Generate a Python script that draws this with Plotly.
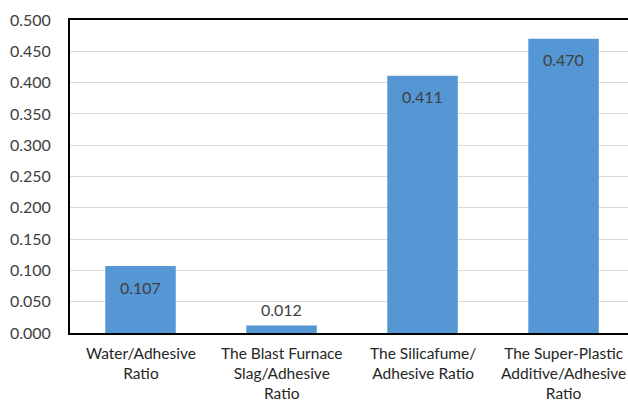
import plotly.graph_objects as go

categories = [
    "Water/Adhesive<br>Ratio",
    "The Blast Furnace<br>Slag/Adhesive<br>Ratio",
    "The Silicafume/<br>Adhesive Ratio",
    "The Super-Plastic<br>Additive/Adhesive<br>Ratio",
]
values = [0.107, 0.012, 0.411, 0.470]
labels = ["0.107", "0.012", "0.411", "0.470"]
tick_vals = [0, 0.05, 0.1, 0.15, 0.2, 0.25, 0.3, 0.35, 0.4, 0.45, 0.5]

FONT = "Lato"
fig = go.Figure()
fig.add_trace(go.Bar(
    x=list(range(len(categories))),
    y=values,
    width=0.5,
    marker=dict(color="#5596D4", line=dict(width=0)),
    hoverinfo="skip",
))

for i, (v, t) in enumerate(zip(values, labels)):
    inside = v > 0.05
    fig.add_annotation(
        x=i, y=v, text=t, showarrow=False,
        yshift=-21 if inside else 16,
        font=dict(family=FONT, size=16, color="#404040"),
    )

for i, c in enumerate(categories):
    fig.add_annotation(
        x=i, xref="x", y=0, yref="paper", text=c, showarrow=False,
        yanchor="top", yshift=-9,
        font=dict(family=FONT, size=15.5, color="#262626"),
    )

fig.update_layout(
    width=628, height=406,
    margin=dict(l=70, r=0, t=20, b=73),
    paper_bgcolor="white", plot_bgcolor="white",
    showlegend=False,
    font=dict(family=FONT, size=15, color="#404040"),
    bargap=0.5,
)
fig.update_xaxes(
    range=[-0.5, 3.457],
    tickmode="array", tickvals=list(range(len(categories))),
    showticklabels=False,
    showgrid=False, zeroline=False,
    showline=True, linecolor="black", linewidth=2,
    ticks="", mirror=True,
)
fig.update_yaxes(
    range=[0, 0.5],
    tickmode="array", tickvals=tick_vals, tickformat=".3f",
    tickfont=dict(family=FONT, size=16, color="#404040"),
    showgrid=True, gridcolor="#D9D9D9", gridwidth=1,
    zeroline=False,
    showline=True, linecolor="black", linewidth=2,
    ticks="", ticklabelstandoff=14,
)

fig.write_html("out.html")
